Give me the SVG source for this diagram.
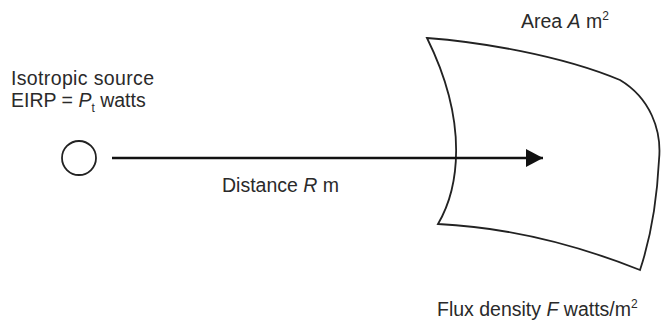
<svg xmlns="http://www.w3.org/2000/svg" width="661" height="322" viewBox="0 0 661 322">
<style>
text{font-family:"Liberation Sans",Arial,sans-serif;font-size:19.5px;fill:#2a2a2a}
.it{font-style:italic}
.shape{fill:none;stroke:#222;stroke-width:1.8}
.conn{stroke:#111;stroke-width:2.4;fill:none}
</style>
<defs>
<marker id="ah" markerUnits="userSpaceOnUse" markerWidth="18" markerHeight="20" refX="17" refY="10" orient="auto">
<path d="M0,1 L17,10 L0,19 Z" fill="#111"/>
</marker>
</defs>
<rect width="661" height="322" fill="#fff"/>
<g id="source">
<circle class="shape" cx="79" cy="158" r="17"/>
<text x="11" y="85" textLength="143">Isotropic source</text>
<text x="11" y="107">EIRP = <tspan class="it">P</tspan><tspan font-size="12" dy="5">t</tspan><tspan dy="-5"> watts</tspan></text>
</g>
<g id="surface">
<path class="shape" d="M427,38 C480,42 560,55 620,80 C650,98 662,130 659,160 C657,200 650,240 640,270 C590,250 520,228 438,224 C458,190 470,125 427,38 Z"/>
<text x="521" y="28">Area <tspan class="it">A</tspan> m<tspan font-size="12" dy="-8">2</tspan></text>
<text x="437" y="316" font-size="20">Flux density <tspan class="it">F</tspan> watts/m<tspan font-size="12" dy="-8">2</tspan></text>
</g>
<g id="connectors">
<line class="conn" x1="112" y1="158" x2="543" y2="158" marker-end="url(#ah)"/>
<text x="222" y="192">Distance <tspan class="it">R</tspan> m</text>
</g>
</svg>
